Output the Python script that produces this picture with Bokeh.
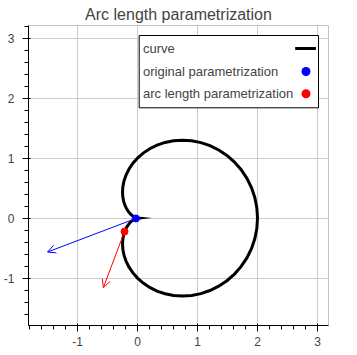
from bokeh.plotting import figure
from bokeh.models import (ColumnDataSource, Arrow, OpenHead, BoxAnnotation, Label, Range1d,
                          PrintfTickFormatter)
from bokeh.embed import file_html
from bokeh.resources import INLINE

# cardioid curve points, upper half then lower half
curve_x = [2.0, 1.98858, 1.95466, 1.89895, 1.82271, 1.72771, 1.61603, 1.49016, 1.35286, 1.20711,
           1.05597, 0.90257, 0.75, 0.60123, 0.459, 0.32581, 0.20381, 0.09476, 0.0, -0.07956,
           -0.1435, -0.19184, -0.22504, -0.24401, -0.25, -0.24459, -0.22961, -0.20711, -0.17922,
           -0.14814, -0.11602, -0.08491, -0.05667, -0.03291, -0.01496, -0.00545, 0.0,
           -0.00545, -0.01496, -0.03291, -0.05667, -0.08491, -0.11602, -0.14814, -0.17922,
           -0.20711, -0.22961, -0.24459, -0.25, -0.24401, -0.22504, -0.19184, -0.1435, -0.07956,
           0.0, 0.09476, 0.20381, 0.32581, 0.459, 0.60123, 0.75, 0.90257, 1.05597, 1.20711,
           1.35286, 1.49016, 1.61603, 1.72771, 1.82271, 1.89895, 1.95466, 1.98858, 2.0]
curve_y = [0.0, 0.17399, 0.34466, 0.50882, 0.66341, 0.80564, 0.93301, 1.04343, 1.13519, 1.20711,
           1.25845, 1.289, 1.29904, 1.28934, 1.26108, 1.21593, 1.15582, 1.08302, 1.0, 0.90936,
           0.8138, 0.71593, 0.6183, 0.52328, 0.43301, 0.34931, 0.27364, 0.20711, 0.15039,
           0.10373, 0.06699, 0.0396, 0.02063, 0.00882, 0.00264, 0.00057, 0.0,
           -0.00057, -0.00264, -0.00882, -0.02063, -0.0396, -0.06699, -0.10373, -0.15039,
           -0.20711, -0.27364, -0.34931, -0.43301, -0.52328, -0.6183, -0.71593, -0.8138, -0.90936,
           -1.0, -1.08302, -1.15582, -1.21593, -1.26108, -1.28934, -1.29904, -1.289, -1.25845, -1.20711,
           -1.13519, -1.04343, -0.93301, -0.80564, -0.66341, -0.50882, -0.34466, -0.17399, 0.0]

# original parametrization: point and velocity vector end
orig_x = [-0.027]
orig_y = [-0.006]
orig_end_x = [-1.50]
orig_end_y = [-0.565]

# arc length parametrization: point and unit tangent end
arc_x = [-0.217]
arc_y = [-0.225]
arc_end_x = [-0.57]
arc_end_y = [-1.16]

legend_labels = ["curve", "original parametrization", "arc length parametrization"]

p = figure(frame_width=300, frame_height=300, output_backend="svg", toolbar_location=None,
           x_range=Range1d(-1.817, 3.183), y_range=Range1d(-1.79, 3.21),
           min_border_left=0, min_border_right=10, min_border_top=0, min_border_bottom=0,
           title="Arc length parametrization")
p.title.align = "center"
p.title.text_font = "Liberation Sans"
p.title.text_font_size = "16px"
p.title.text_font_style = "normal"
p.title.text_color = "#444444"
p.title.standoff = 6

p.outline_line_color = "#c4c4c4"
p.grid.grid_line_color = "#cccccc"
for ax in (p.xaxis[0], p.yaxis[0]):
    ax.axis_line_color = "black"
    ax.major_tick_line_color = "black"
    ax.minor_tick_line_color = "black"
    ax.major_label_text_font = "Liberation Sans"
    ax.major_label_text_font_size = "12px"
    ax.major_label_text_color = "#444444"
    ax.formatter = PrintfTickFormatter(format="%d")
p.yaxis[0].major_label_standoff = 8

p.line(curve_x, curve_y, line_color="black", line_width=3, line_join="miter")

p.add_layout(Arrow(end=OpenHead(size=8, line_color="blue", line_width=1),
                   source=ColumnDataSource(dict(xs=orig_x, ys=orig_y, xe=orig_end_x, ye=orig_end_y)),
                   x_start="xs", y_start="ys", x_end="xe", y_end="ye",
                   line_color="blue", line_width=1))
p.add_layout(Arrow(end=OpenHead(size=8, line_color="red", line_width=1),
                   source=ColumnDataSource(dict(xs=arc_x, ys=arc_y, xe=arc_end_x, ye=arc_end_y)),
                   x_start="xs", y_start="ys", x_end="xe", y_end="ye",
                   line_color="red", line_width=1))

p.scatter(orig_x, orig_y, size=7, color="blue")
p.scatter(arc_x, arc_y, size=7, color="red")

# legend (labels on the left, keys on the right), frame screen units
def sbox(l, r, b, t, **kw):
    return BoxAnnotation(left=l, right=r, bottom=b, top=t, left_units="screen", right_units="screen",
                         bottom_units="screen", top_units="screen", **kw)

p.add_layout(sbox(110.7, 290, 217.7, 290, fill_color="white", fill_alpha=1,
                  line_color="black", line_width=1, line_alpha=1))
ys = [277, 254, 231.7]
for lab, yy in zip(legend_labels, ys):
    p.add_layout(Label(x=114.5, y=yy, x_units="screen", y_units="screen", text=lab,
                       text_baseline="middle", text_font="Liberation Sans", text_font_size="13px",
                       text_color="#444444"))
p.add_layout(sbox(266.7, 287.4, ys[0] - 1.5, ys[0] + 1.5, fill_color="black", fill_alpha=1,
                  line_color=None))
p.add_layout(sbox(273.0, 282.0, ys[1] - 4.5, ys[1] + 4.5, fill_color="blue", fill_alpha=1,
                  line_color=None, border_radius=5))
p.add_layout(sbox(273.0, 282.0, ys[2] - 4.5, ys[2] + 4.5, fill_color="red", fill_alpha=1,
                  line_color=None, border_radius=5))

open("out.html", "w").write(file_html(p, INLINE))
